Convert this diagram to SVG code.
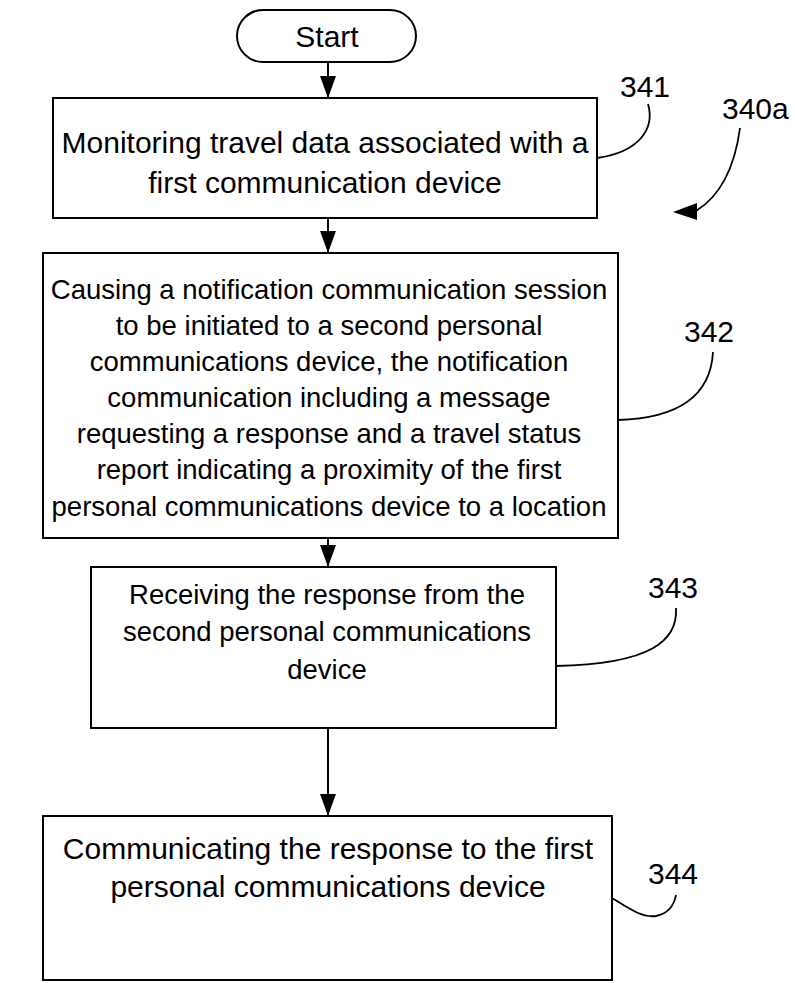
<svg xmlns="http://www.w3.org/2000/svg" width="795" height="983" viewBox="0 0 795 983">
<style>
.box{fill:#fff;stroke:#000;stroke-width:2}
.t{font-family:"Liberation Sans",Arial,sans-serif;font-size:30px;fill:#000;text-anchor:middle}
.s{font-size:27.5px}
.lbl{font-family:"Liberation Sans",Arial,sans-serif;font-size:30px;fill:#000}
.lead{fill:none;stroke:#000;stroke-width:1.8}
.flow{fill:none;stroke:#000;stroke-width:2}
</style>
<defs>
<marker id="ah" viewBox="0 0 22 16" refX="22" refY="8" markerWidth="22" markerHeight="16" markerUnits="userSpaceOnUse" orient="auto">
<path d="M0,0 L22,8 L0,16 z" fill="#000"/>
</marker>
</defs>
<rect width="795" height="983" fill="#fff"/>
<g id="connectors">
<line class="flow" x1="328" y1="62" x2="328" y2="98" marker-end="url(#ah)"/>
<line class="flow" x1="328" y1="218" x2="328" y2="253" marker-end="url(#ah)"/>
<line class="flow" x1="328" y1="538" x2="328" y2="567" marker-end="url(#ah)"/>
<line class="flow" x1="328" y1="728" x2="328" y2="816" marker-end="url(#ah)"/>
</g>
<g id="start">
<rect class="box" x="237" y="10" width="179" height="52" rx="26" ry="26"/>
<text class="t" x="327" y="47">Start</text>
</g>
<g id="n341">
<rect class="box" x="53" y="98" width="544" height="120"/>
<text class="t" x="325" y="153">Monitoring travel data associated with a</text>
<text class="t" x="325" y="193">first communication device</text>
</g>
<g id="n342">
<rect class="box" x="43" y="253" width="575" height="285"/>
<text class="t s" x="329" y="299">Causing a notification communication session</text>
<text class="t s" x="329" y="335">to be initiated to a second personal</text>
<text class="t s" x="329" y="371">communications device, the notification</text>
<text class="t s" x="329" y="407">communication including a message</text>
<text class="t s" x="329" y="443">requesting a response and a travel status</text>
<text class="t s" x="329" y="479">report indicating a proximity of the first</text>
<text class="t s" x="329" y="516">personal communications device to a location</text>
</g>
<g id="n343">
<rect class="box" x="91" y="567" width="465" height="161"/>
<text class="t s" x="327" y="604">Receiving the response from the</text>
<text class="t s" x="327" y="641">second personal communications</text>
<text class="t s" x="327" y="679">device</text>
</g>
<g id="n344">
<rect class="box" x="43" y="816" width="569" height="164"/>
<text class="t" x="328" y="859">Communicating the response to the first</text>
<text class="t" x="328" y="897">personal communications device</text>
</g>
<g id="labels">
<text class="lbl" x="620" y="97">341</text>
<path class="lead" d="M648,104 C655,128 640,152 597,158"/>
<text class="lbl" x="722" y="119">340a</text>
<path class="lead" d="M740,128 C735,165 722,195 696,211"/>
<polygon points="673,212 697,203 697,220" fill="#000"/>
<text class="lbl" x="684" y="342">342</text>
<path class="lead" d="M713,352 C711,388 688,418 618,420"/>
<text class="lbl" x="648" y="598">343</text>
<path class="lead" d="M676,608 C678,640 652,664 556,666"/>
<text class="lbl" x="648" y="884">344</text>
<path class="lead" d="M612,898 C628,908 642,918 656,916 C667,914 674,906 676,895"/>
</g>
</svg>
